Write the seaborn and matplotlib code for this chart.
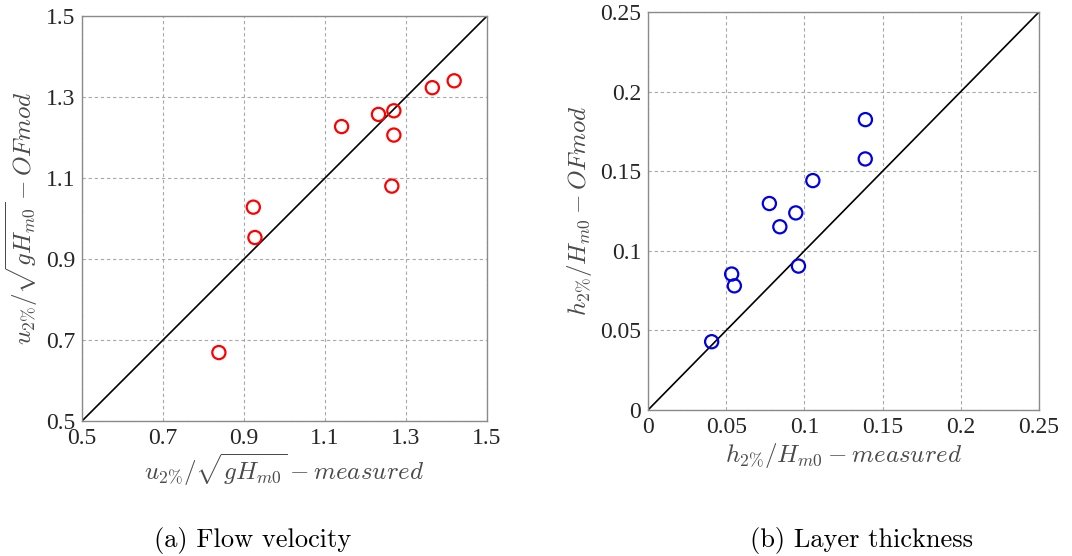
import matplotlib
matplotlib.use("Agg")
import matplotlib.pyplot as plt
import seaborn as sns
import pandas as pd

# ---- data ----
u_measured = [0.838, 0.923, 0.927, 1.141, 1.232, 1.270, 1.270, 1.265, 1.365, 1.419]
u_model    = [0.669, 1.028, 0.953, 1.227, 1.257, 1.266, 1.206, 1.080, 1.323, 1.340]

h_measured = [0.0407, 0.0535, 0.0552, 0.0776, 0.0843, 0.0945, 0.0962, 0.1054, 0.1390, 0.1389]
h_model    = [0.0429, 0.0854, 0.0780, 0.1297, 0.1151, 0.1238, 0.0904, 0.1441, 0.1824, 0.1577]

u_lim = [0.5, 1.5]
u_ticks = [0.5, 0.7, 0.9, 1.1, 1.3, 1.5]
u_ticklabels = ["0.5", "0.7", "0.9", "1.1", "1.3", "1.5"]

h_lim = [0.0, 0.25]
h_ticks = [0.0, 0.05, 0.10, 0.15, 0.20, 0.25]
h_ticklabels = ["0", "0.05", "0.1", "0.15", "0.2", "0.25"]

captions = ["(a) Flow velocity", "(b) Layer thickness"]
u_xlabel = r"$u_{2\%}/\sqrt{gH_{m0}}-measured$"
u_ylabel = r"$u_{2\%}/\sqrt{gH_{m0}}-OFmod$"
h_xlabel = r"$h_{2\%}/H_{m0}-measured$"
h_ylabel = r"$h_{2\%}/H_{m0}-OFmod$"

# ---- style ----
sns.set_style("white")
plt.rcParams["font.family"] = ["Liberation Serif", "DejaVu Serif"]
plt.rcParams["mathtext.fontset"] = "cm"

fig = plt.figure(figsize=(10.72, 5.56), dpi=100)
ax1 = fig.add_axes([82 / 1072, 1 - 421 / 556, 405 / 1072, 405 / 556])
ax2 = fig.add_axes([648 / 1072, 1 - 410 / 556, 391 / 1072, 398 / 556])

df_u = pd.DataFrame({"meas": u_measured, "mod": u_model})
df_h = pd.DataFrame({"meas": h_measured, "mod": h_model})

txt_color = "#262626"
lab_color = "#4a4a4a"

def style_ax(ax, lim, ticks, ticklabels, xlabel, ylabel):
    ax.set_xlim(lim)
    ax.set_ylim(lim)
    ax.set_xticks(ticks)
    ax.set_yticks(ticks)
    ax.set_xticklabels(ticklabels)
    ax.set_yticklabels(ticklabels)
    ax.tick_params(axis="both", direction="in", length=3, width=0.8,
                   colors="#909090", labelcolor=txt_color, labelsize=17, pad=5)
    ax.grid(True, color="#a8a8a8", linestyle=(0, (3, 2.5)), linewidth=0.8)
    ax.set_axisbelow(True)
    for sp in ax.spines.values():
        sp.set_color("#8a8a8a")
        sp.set_linewidth(1.0)
    ax.set_xlabel(xlabel, fontsize=18, color=lab_color, labelpad=2)
    ax.set_ylabel(ylabel, fontsize=18, color=lab_color, labelpad=4)

# left panel
ax1.plot(u_lim, u_lim, color="black", linewidth=1.2, zorder=2)
sns.scatterplot(data=df_u, x="meas", y="mod", ax=ax1, s=90, marker="o",
                facecolors="none", edgecolor="#ff0000", linewidth=1.6, zorder=3)
style_ax(ax1, u_lim, u_ticks, u_ticklabels, u_xlabel, u_ylabel)

# right panel
ax2.plot(h_lim, h_lim, color="black", linewidth=1.2, zorder=2)
sns.scatterplot(data=df_h, x="meas", y="mod", ax=ax2, s=90, marker="o",
                facecolors="none", edgecolor="#0000e6", linewidth=1.6, zorder=3)
style_ax(ax2, h_lim, h_ticks, h_ticklabels, h_xlabel, h_ylabel)

# captions
fig.text(253 / 1072, 1 - 541 / 556, captions[0], ha="center", va="center",
         fontsize=19, family=["cmr10", "DejaVu Serif"], color="black")
fig.text(862 / 1072, 1 - 541 / 556, captions[1], ha="center", va="center",
         fontsize=19, family=["cmr10", "DejaVu Serif"], color="black")

fig.savefig("out.png", dpi=100)
